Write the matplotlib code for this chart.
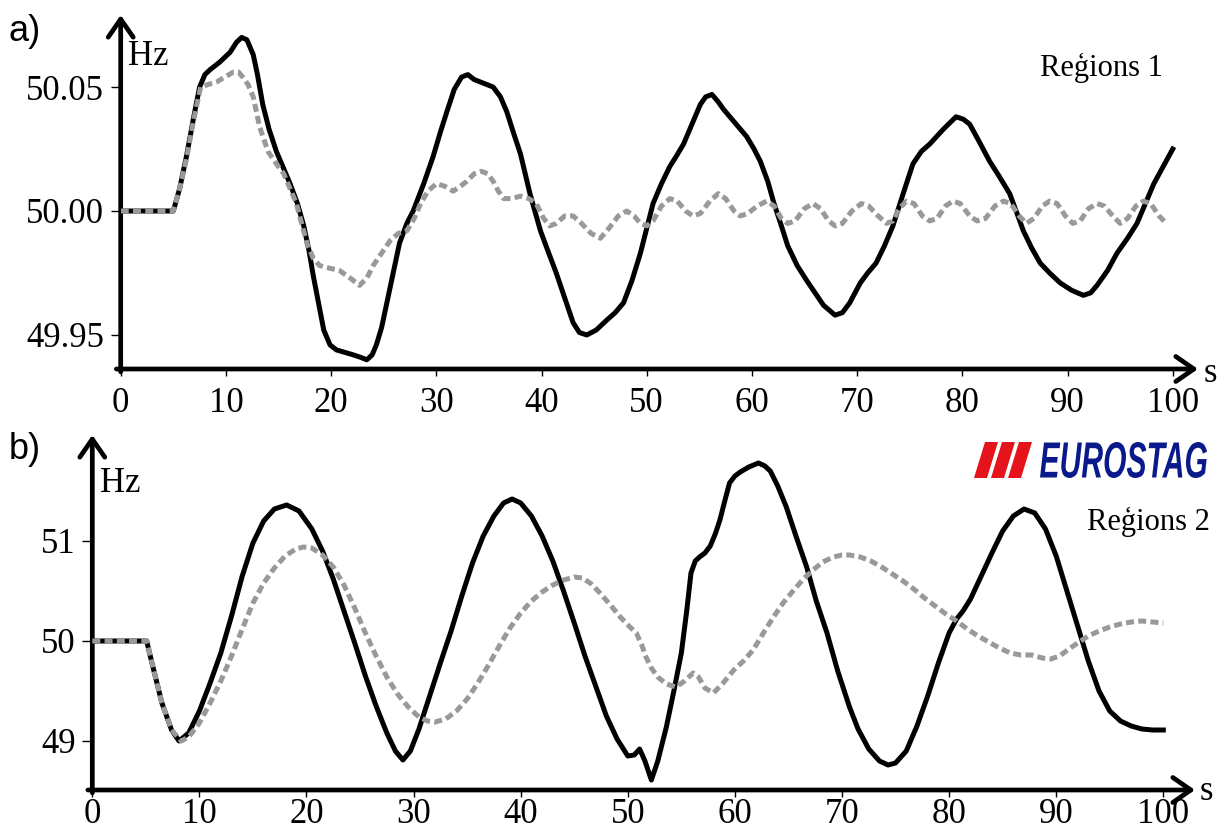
import numpy as np
import matplotlib
matplotlib.use("Agg")
import matplotlib.pyplot as plt
from matplotlib.textpath import TextPath
from matplotlib.patches import PathPatch, Polygon
from matplotlib.font_manager import FontProperties
from matplotlib.transforms import Affine2D

# --- panel a) Regions 1 ---
t_a_black = [0, 5.0, 5.6, 6.25, 6.9, 7.5, 8.0, 8.5, 9.4, 10.4, 11.0, 11.5, 12.0, 12.6, 13.0,
             13.5, 14.1, 14.8, 15.5, 16.1, 16.8, 17.4, 17.9, 18.3, 18.8, 19.3, 19.9, 20.5,
             21.3, 22.1, 22.8, 23.4, 23.9, 24.3, 24.8, 25.3, 25.9, 26.5, 27.2, 27.8, 28.8,
             29.7, 30.4, 31.0, 31.7, 32.4, 33.0, 33.6, 34.2, 35.4, 36.1, 36.7, 37.3, 38.0,
             38.9, 39.9, 40.6, 41.4, 42.2, 43.0, 43.6, 44.3, 45.2, 46.2, 47.0, 47.8, 48.6,
             49.4, 50.0, 50.6, 51.4, 52.2, 52.8, 53.5, 54.3, 55.1, 55.6, 56.2, 56.8, 57.3,
             57.9, 58.7, 59.5, 60.2, 60.8, 61.5, 62.1, 62.8, 63.4, 64.3, 65.2, 66.0, 66.8,
             67.9, 68.6, 69.3, 70.3, 71.0, 71.8, 72.6, 73.4, 74.3, 75.3, 76.1, 76.9, 78.2,
             79.4, 80.1, 80.7, 81.6, 82.6, 83.5, 84.5, 85.2, 85.8, 86.6, 87.4, 88.3, 89.3,
             90.4, 91.5, 92.2, 92.8, 93.8, 94.7, 95.7, 96.6, 97.4, 98.2, 99.1, 100.0]
f_a_black = [50.000, 50.000, 50.009, 50.022, 50.037, 50.050, 50.055, 50.057, 50.060, 50.064,
             50.068, 50.070, 50.069, 50.063, 50.055, 50.043, 50.033, 50.024, 50.017, 50.011,
             50.003, 49.994, 49.984, 49.974, 49.963, 49.952, 49.946, 49.944, 49.943, 49.942,
             49.941, 49.940, 49.942, 49.946, 49.953, 49.963, 49.975, 49.987, 49.995, 50.000,
             50.011, 50.022, 50.032, 50.040, 50.049, 50.054, 50.055, 50.053, 50.052, 50.050,
             50.046, 50.040, 50.032, 50.023, 50.007, 49.992, 49.984, 49.975, 49.965, 49.955,
             49.951, 49.950, 49.952, 49.956, 49.959, 49.963, 49.972, 49.983, 49.993, 50.003,
             50.011, 50.018, 50.022, 50.027, 50.035, 50.043, 50.046, 50.047, 50.044, 50.041,
             50.038, 50.034, 50.030, 50.025, 50.020, 50.012, 50.003, 49.994, 49.986, 49.978,
             49.972, 49.967, 49.962, 49.958, 49.959, 49.963, 49.971, 49.975, 49.979, 49.986,
             49.994, 50.006, 50.019, 50.024, 50.027, 50.033, 50.038, 50.037, 50.035, 50.028,
             50.020, 50.014, 50.007, 49.999, 49.992, 49.985, 49.979, 49.975, 49.971, 49.968,
             49.966, 49.967, 49.970, 49.976, 49.983, 49.989, 49.995, 50.003, 50.011, 50.018,
             50.025]

t_a_gray = [0, 5.0, 5.6, 6.25, 6.9, 7.6, 8.3, 9.1, 9.9, 10.7, 11.2, 11.6, 12.1, 12.6, 13.2,
            14.0, 14.8, 15.5, 16.1, 16.7, 17.2, 17.7, 18.3, 18.9, 19.8, 20.8, 21.8, 22.7,
            23.4, 24.0, 24.8, 25.6, 26.4, 27.2, 27.9, 28.5, 29.2, 30.0, 30.8, 31.6, 32.3,
            32.9, 33.6, 34.3, 34.9, 35.4, 35.9, 36.4, 37.2, 38.0, 38.8, 39.5, 40.2, 40.8,
            41.4, 42.2, 43.0, 43.8, 44.7, 45.6, 46.4, 47.3, 48.1, 48.8, 49.4, 50.0, 50.6,
            51.4, 52.2, 52.9, 53.7, 54.4, 55.1, 56.0, 56.8, 57.5, 58.3, 58.9, 59.6, 60.5,
            61.4, 62.1, 62.8, 63.4, 64.1, 65.0, 65.8, 66.5, 67.3, 67.9, 68.6, 69.5, 70.4,
            71.1, 72.0, 72.8, 73.4, 74.0, 74.7, 75.4, 76.2, 76.9, 77.6, 78.4, 79.1, 79.8,
            80.7, 81.4, 82.2, 83.1, 83.9, 84.6, 85.4, 86.1, 86.8, 87.6, 88.3, 89.0, 89.8,
            90.5, 91.2, 92.0, 92.8, 93.5, 94.3, 95.0, 95.7, 96.5, 97.2, 97.9, 98.7, 99.4]
f_a_gray = [50.000, 50.000, 50.009, 50.021, 50.036, 50.050, 50.051, 50.052, 50.054, 50.056,
            50.056, 50.054, 50.051, 50.046, 50.034, 50.024, 50.019, 50.015, 50.009, 50.003,
            49.995, 49.987, 49.981, 49.978, 49.977, 49.976, 49.973, 49.970, 49.973, 49.978,
            49.983, 49.988, 49.991, 49.992, 49.997, 50.003, 50.008, 50.011, 50.010, 50.008,
            50.010, 50.012, 50.015, 50.016, 50.015, 50.012, 50.008, 50.005, 50.005, 50.006,
            50.005, 50.003, 49.997, 49.994, 49.995, 49.998, 49.998, 49.995, 49.991, 49.989,
            49.993, 49.998, 50.000, 49.998, 49.995, 49.994, 49.996, 50.002, 50.005, 50.004,
            50.000, 49.998, 49.999, 50.004, 50.007, 50.005, 50.000, 49.998, 49.999, 50.002,
            50.004, 50.002, 49.997, 49.995, 49.996, 50.001, 50.003, 50.001, 49.996, 49.994,
            49.995, 50.000, 50.003, 50.002, 49.998, 49.995, 49.996, 50.001, 50.004, 50.003,
            49.998, 49.996, 49.997, 50.002, 50.004, 50.003, 49.998, 49.996, 49.997, 50.002,
            50.004, 50.003, 49.998, 49.995, 49.997, 50.002, 50.004, 50.003, 49.998, 49.995,
            49.996, 50.001, 50.003, 50.002, 49.998, 49.995, 49.997, 50.002, 50.004, 50.003,
            49.998, 49.995]

# --- panel b) Regions 2 ---
t_b_black = [0, 5.08, 5.5, 6.5, 7.4, 8.1, 9.0, 10.0, 11.0, 12.0, 13.0, 14.0, 15.0, 16.0,
             17.0, 18.15, 19.3, 20.5, 21.5, 22.5, 23.5, 24.5, 25.5, 26.5, 27.5, 28.3, 29.0,
             29.7, 30.5, 31.5, 32.5, 33.5, 34.5, 35.5, 36.5, 37.5, 38.4, 39.2, 40.0, 41.0,
             42.0, 43.0, 44.0, 45.0, 46.0, 47.0, 48.0, 49.0, 50.0, 50.6, 51.1, 51.6, 52.2,
             52.8, 53.6, 54.3, 55.0, 55.5, 55.9, 56.3, 56.7, 57.2, 57.7, 58.2, 58.6, 59.1,
             59.5, 60.0, 60.5, 61.3, 62.2, 62.8, 63.3, 64.0, 64.8, 65.7, 66.7, 67.6, 68.6,
             69.6, 70.7, 71.5, 72.5, 73.5, 74.3, 75.0, 76.0, 77.0, 78.0, 79.0, 80.0, 80.7,
             81.3, 82.0, 83.0, 84.0, 85.0, 86.0, 87.0, 88.0, 89.0, 90.0, 91.0, 92.0, 93.0,
             94.0, 95.0, 96.0, 97.0, 98.0, 99.0, 100.0]
f_b_black = [50.00, 50.00, 49.81, 49.38, 49.11, 49.00, 49.08, 49.30, 49.58, 49.88, 50.25,
             50.65, 50.98, 51.20, 51.32, 51.36, 51.30, 51.12, 50.90, 50.62, 50.30, 49.98,
             49.65, 49.35, 49.08, 48.90, 48.81, 48.90, 49.12, 49.45, 49.78, 50.10, 50.45,
             50.78, 51.05, 51.25, 51.38, 51.42, 51.38, 51.25, 51.05, 50.80, 50.50, 50.18,
             49.85, 49.55, 49.25, 49.02, 48.85, 48.86, 48.92, 48.80, 48.61, 48.80, 49.14,
             49.50, 49.88, 50.30, 50.68, 50.80, 50.84, 50.88, 50.95, 51.08, 51.21, 51.42,
             51.58, 51.65, 51.69, 51.74, 51.78, 51.75, 51.70, 51.55, 51.34, 51.05, 50.74,
             50.40, 50.08, 49.70, 49.34, 49.12, 48.92, 48.80, 48.76, 48.78, 48.90, 49.15,
             49.45, 49.78, 50.08, 50.22, 50.30, 50.42, 50.65, 50.88, 51.10, 51.25, 51.32,
             51.28, 51.12, 50.85, 50.50, 50.15, 49.80, 49.50, 49.30, 49.20, 49.15, 49.12,
             49.11, 49.11]

t_b_gray = [0, 5.08, 5.5, 6.5, 7.4, 8.3, 9.0, 10.0, 11.0, 12.0, 13.0, 14.0, 15.0, 16.0,
            17.0, 18.0, 19.0, 19.7, 20.5, 21.5, 22.5, 23.5, 24.5, 25.5, 26.5, 27.5, 28.5,
            29.5, 30.5, 31.3, 32.0, 33.0, 34.0, 35.0, 36.0, 37.0, 38.0, 39.0, 40.0, 41.0,
            42.0, 43.0, 44.0, 45.0, 45.8, 46.6, 47.4, 48.3, 49.3, 50.1, 50.8, 51.3, 51.7,
            52.2, 52.8, 53.6, 54.5, 55.3, 56.1, 56.6, 57.2, 58.0, 58.9, 59.9, 60.8, 61.7,
            62.6, 63.6, 64.5, 65.5, 66.4, 67.3, 68.2, 69.2, 70.0, 70.7, 71.7, 72.7, 73.7,
            74.7, 75.7, 76.7, 77.7, 78.7, 79.7, 80.7, 81.7, 82.7, 83.7, 84.7, 85.7, 86.7,
            87.7, 88.7, 89.5, 90.3, 91.2, 92.0, 93.0, 94.0, 95.0, 96.0, 97.0, 98.0, 99.0,
            100.0]
f_b_gray = [50.00, 50.00, 49.81, 49.38, 49.11, 49.00, 49.04, 49.18, 49.38, 49.60, 49.85,
            50.12, 50.38, 50.58, 50.73, 50.85, 50.92, 50.94, 50.93, 50.86, 50.74, 50.56,
            50.33, 50.08, 49.85, 49.64, 49.47, 49.34, 49.24, 49.20, 49.19, 49.22, 49.30,
            49.42, 49.58, 49.76, 49.95, 50.13, 50.28, 50.40, 50.49, 50.56, 50.61, 50.64,
            50.63, 50.57, 50.48, 50.37, 50.24, 50.15, 50.08, 49.96, 49.84, 49.73, 49.64,
            49.57, 49.54, 49.60, 49.68, 49.64, 49.53, 49.48, 49.58, 49.71, 49.80, 49.91,
            50.07, 50.24, 50.38, 50.51, 50.62, 50.71, 50.79, 50.84, 50.86, 50.86, 50.84,
            50.80, 50.74, 50.67, 50.60, 50.52, 50.43, 50.35, 50.27, 50.20, 50.12, 50.05,
            49.99, 49.93, 49.88, 49.86, 49.86, 49.83, 49.82, 49.85, 49.92, 49.98, 50.05,
            50.10, 50.14, 50.17, 50.19, 50.20, 50.19, 50.18]

x_ticks = list(range(0, 101, 10))
a_yticks = [49.95, 50.00, 50.05]
a_ylabels = ['49.95', '50.00', '50.05']
b_yticks = [49, 50, 51]
b_ylabels = ['49', '50', '51']

W, H = 1222, 836
fig = plt.figure(figsize=(W / 100, H / 100), dpi=100)
serif = 'Liberation Serif'
gray = '#999999'


def make_axes(rect, xlim, ylim, yticks, ylabels, xpad):
    ax = fig.add_axes(rect)
    ax.set_xlim(*xlim)
    ax.set_ylim(*ylim)
    for s in ax.spines.values():
        s.set_visible(False)
    ax.set_xticks(x_ticks)
    ax.set_xticklabels([str(v) for v in x_ticks], fontfamily=serif, fontsize=25)
    ax.set_yticks(yticks)
    ax.set_yticklabels(ylabels, fontfamily=serif, fontsize=25)
    ax.tick_params(axis='x', direction='out', length=5, width=1, pad=xpad)
    ax.tick_params(axis='y', direction='out', length=7, width=1, pad=5)
    arrow = dict(arrowstyle='->,head_length=0.65,head_width=0.45', lw=3.4, color='black',
                 shrinkA=0, shrinkB=0, mutation_scale=20)
    ax.annotate('', xy=(1, 0), xytext=(-0.004, 0), xycoords='axes fraction', arrowprops=arrow,
                annotation_clip=False)
    ax.annotate('', xy=(0, 1), xytext=(0, -0.008), xycoords='axes fraction', arrowprops=arrow,
                annotation_clip=False)
    return ax


# panel a
ax1 = make_axes([120.7 / W, (H - 369) / H, (1198 - 120.7) / W, (369 - 15) / H],
                (0, 102.4), (50 - 158 / 2480, 50 + 196 / 2480), a_yticks, a_ylabels, 8)
ax1.plot(t_a_black, f_a_black, color='black', lw=3.6, solid_joinstyle='round', zorder=2)
ax1.plot(t_a_gray, f_a_gray, color=gray, lw=3.6, dashes=(1.6, 0.85), zorder=3)
ax1.text(0.007, 0.859, 'Hz', transform=ax1.transAxes, fontfamily=serif, fontsize=25,
         va='baseline', ha='left')

# panel b
ax2 = make_axes([92.3 / W, (H - 790) / H, (1195 - 92.3) / W, (790 - 435) / H],
                (0, 102.96), (48.51, 52.06), b_yticks, b_ylabels, 0.5)
ax2.plot(t_b_black, f_b_black, color='black', lw=3.6, solid_joinstyle='round', zorder=2)
ax2.plot(t_b_gray, f_b_gray, color=gray, lw=3.6, dashes=(1.6, 0.85), zorder=3)
ax2.text(0.007, 0.839, 'Hz', transform=ax2.transAxes, fontfamily=serif, fontsize=25,
         va='baseline', ha='left')


# labels in figure pixel space
def fx(x):
    return x / W


def fy(y):
    return 1 - y / H


fig.text(fx(9), fy(41), 'a)', fontfamily='Liberation Sans', fontsize=26, va='baseline')
fig.text(fx(9), fy(459), 'b)', fontfamily='Liberation Sans', fontsize=26, va='baseline')
fig.text(fx(1204), fy(382), 's', fontfamily=serif, fontsize=25, va='baseline')
fig.text(fx(1200), fy(800), 's', fontfamily=serif, fontsize=25, va='baseline')
fig.text(fx(1040), fy(76), 'Reģions 1', fontfamily=serif, fontsize=22, va='baseline')
fig.text(fx(1087), fy(530), 'Reģions 2', fontfamily=serif, fontsize=22, va='baseline')

# EUROSTAG logo
pix = Affine2D().scale(1 / W, 1 / H) + fig.transFigure
fp = FontProperties(family='Liberation Sans', weight='bold', style='italic')
tp = TextPath((0, 0), 'EUROSTAG', size=1, prop=fp)
bb = tp.get_extents()
x0, x1, ytop, ybot = 1040, 1207, 442, 478
tr = Affine2D().translate(-bb.x0, -bb.y0).scale((x1 - x0) / bb.width, (ybot - ytop) / bb.height) \
    .translate(x0, H - ybot)
fig.add_artist(PathPatch(tr.transform_path(tp), facecolor='#0b1a8a', edgecolor='none',
                         transform=pix))
for bx in [974, 991, 1008]:
    poly = [(bx, H - ybot), (bx + 13, H - ybot), (bx + 24, H - ytop), (bx + 11, H - ytop)]
    fig.add_artist(Polygon(poly, closed=True, facecolor='#e5141c', edgecolor='none',
                           transform=pix))

fig.savefig('out.png', dpi=100)
